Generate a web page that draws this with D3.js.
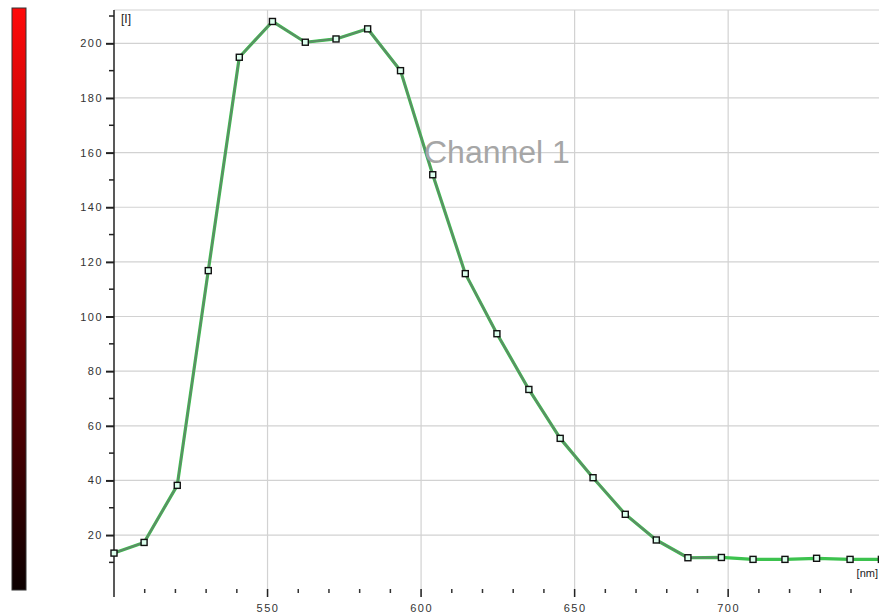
<!DOCTYPE html>
<html><head><meta charset="utf-8">
<script src="https://cdn.jsdelivr.net/npm/d3@7"></script>
<style>body{margin:0;background:#fff;}svg{display:block;font-family:"Liberation Sans",Arial,sans-serif;}</style>
</head><body><svg id="c" width="879" height="616"></svg>
<script>
const wavelengths = [500.0,509.8,520.6,530.7,540.8,551.6,562.3,572.3,582.6,593.3,603.8,614.4,624.7,635.1,645.3,656.0,666.5,676.6,686.9,697.8,708.1,718.5,728.8,739.7,749.9];
const intensity   = [13.4,17.3,38.2,116.8,194.9,208.0,200.4,201.6,205.3,190.0,151.9,115.7,93.7,73.3,55.4,41.0,27.6,18.2,11.7,11.8,11.1,11.1,11.5,11.1,11.1];
const yMajorTicks = [20,40,60,80,100,120,140,160,180,200];
const yMinorTicks = [10,30,50,70,90,110,130,150,170,190,210];
const xMajorTicks = [550,600,650,700];
const xMinorTicks = [510,520,530,540,560,570,580,590,610,620,630,640,660,670,680,690,710,720,730,740,750];
const seriesName = "Channel 1";
const yUnit = "[I]", xUnit = "[nm]";

const svg = d3.select("#c");
const L = 114, R = 881.7, T = 10, B = 597;
const x = d3.scaleLinear().domain([500,750]).range([L,R]);
const y = d3.scaleLinear().domain([-2.67,212.2]).range([B,T]);

// color bar
const defs = svg.append("defs");
const g = defs.append("linearGradient").attr("id","cb").attr("x1",0).attr("y1",0).attr("x2",0).attr("y2",1);
g.append("stop").attr("offset","0%").attr("stop-color","#ff0a0a");
g.append("stop").attr("offset","45%").attr("stop-color","#8a0004");
g.append("stop").attr("offset","100%").attr("stop-color","#0c0000");
svg.append("rect").attr("x",12).attr("y",8).attr("width",14).attr("height",582)
  .attr("fill","url(#cb)").attr("stroke","#333").attr("stroke-width",1);

// grid
svg.append("g").selectAll("line").data(yMajorTicks).join("line")
  .attr("x1",L).attr("x2",879).attr("y1",d=>y(d)).attr("y2",d=>y(d))
  .attr("stroke","#d2d2d2").attr("stroke-width",1.2);
svg.append("line").attr("x1",L).attr("x2",879).attr("y1",T).attr("y2",T).attr("stroke","#d2d2d2").attr("stroke-width",1.2);
svg.append("g").selectAll("line").data(xMajorTicks).join("line")
  .attr("x1",d=>x(d)).attr("x2",d=>x(d)).attr("y1",T).attr("y2",B)
  .attr("stroke","#d2d2d2").attr("stroke-width",1.2);

// y axis
const ya = svg.append("g").attr("transform",`translate(${L},0)`)
  .call(d3.axisLeft(y).tickValues(yMajorTicks).tickSize(8).tickPadding(3));
ya.select(".domain").attr("d",`M0,${T}V${B}`).attr("stroke","#222").attr("stroke-width",1.5);
ya.selectAll(".tick line").attr("stroke","#222").attr("stroke-width",2);
ya.selectAll(".tick text").attr("font-size",11).attr("fill","#333").attr("letter-spacing","1.5px")
  .attr("font-family","'Liberation Sans',Arial,sans-serif");
svg.append("g").selectAll("line").data(yMinorTicks).join("line")
  .attr("x1",L-5).attr("x2",L).attr("y1",d=>y(d)).attr("y2",d=>y(d))
  .attr("stroke","#222").attr("stroke-width",1.5);

// x axis (ticks only)
const xa = svg.append("g").attr("transform",`translate(0,${B})`)
  .call(d3.axisBottom(x).tickValues(xMajorTicks).tickSize(0).tickPadding(7));
xa.select(".domain").remove();
xa.selectAll(".tick text").attr("font-size",11).attr("fill","#333").attr("letter-spacing","1.5px")
  .attr("font-family","'Liberation Sans',Arial,sans-serif");
svg.append("g").selectAll("line").data(xMajorTicks).join("line")
  .attr("x1",d=>x(d)).attr("x2",d=>x(d)).attr("y1",B-8).attr("y2",B)
  .attr("stroke","#222").attr("stroke-width",1.5);
svg.append("g").selectAll("line").data(xMinorTicks).join("line")
  .attr("x1",d=>x(d)).attr("x2",d=>x(d)).attr("y1",B-8).attr("y2",B-4)
  .attr("stroke","#333").attr("stroke-width",1.5);

// units
svg.append("text").attr("x",121).attr("y",23).attr("font-size",12).attr("fill","#222").text(yUnit);
svg.append("text").attr("x",878).attr("y",577).attr("text-anchor","end").attr("font-size",11).attr("fill","#222").text(xUnit);

// series
const pts = wavelengths.map((w,i)=>({w,v:intensity[i]}));
const line = d3.line().x(d=>x(d.w)).y(d=>y(d.v));
svg.append("path").datum(pts).attr("d",line).attr("fill","none")
  .attr("stroke","#3cc24e").attr("stroke-width",3.2).attr("stroke-linejoin","round");
svg.append("path").datum(pts.slice(0,20)).attr("d",line).attr("fill","none")
  .attr("stroke","#5f8a68").attr("stroke-width",1.8).attr("stroke-linejoin","round");
svg.append("g").selectAll("rect").data(pts).join("rect")
  .attr("x",d=>x(d.w)-3).attr("y",d=>y(d.v)-3).attr("width",6).attr("height",6)
  .attr("fill","#dfe") .attr("stroke","#111").attr("stroke-width",1.4);

// title
svg.append("text").attr("x",424).attr("y",163).attr("font-size",32).attr("fill","#a6a6a6")
  .attr("font-family","'Liberation Sans',Arial,sans-serif").text(seriesName);
</script></body></html>
